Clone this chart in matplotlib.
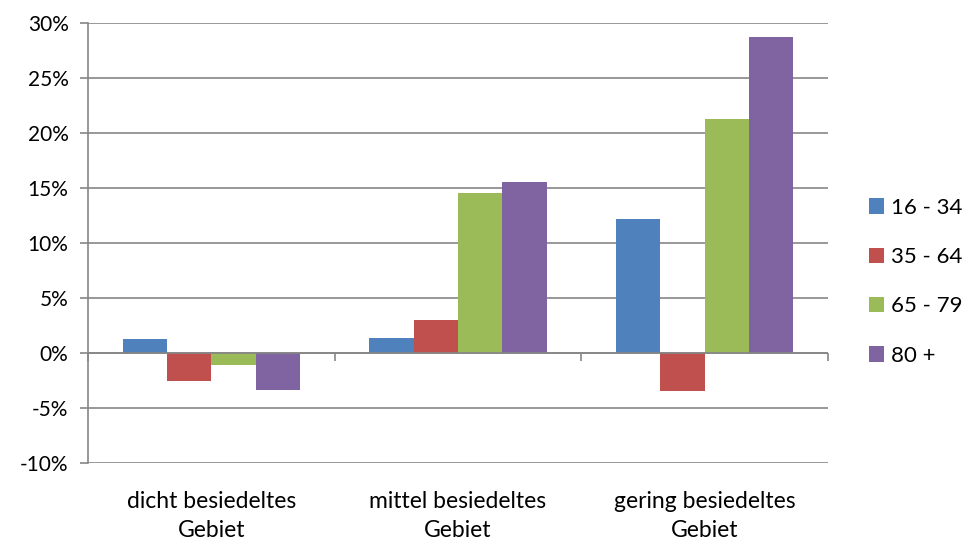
import numpy as np
import matplotlib.pyplot as plt
from matplotlib.ticker import FuncFormatter, MultipleLocator

plt.rcParams['font.family'] = ['Lato', 'DejaVu Sans']

categories = ["dicht besiedeltes\nGebiet", "mittel besiedeltes\nGebiet", "gering besiedeltes\nGebiet"]
series_names = ["16 - 34", "35 - 64", "65 - 79", "80 +"]
v_16_34 = [1.25, 1.35, 12.15]
v_35_64 = [-2.55, 3.05, -3.4]
v_65_79 = [-1.05, 14.5, 21.3]
v_80 = [-3.35, 15.5, 28.7]
colors = ["#4F81BD", "#C0504D", "#9BBB59", "#8064A2"]

values = [v_16_34, v_35_64, v_65_79, v_80]
grid_col = "#868686"

fig = plt.figure(figsize=(9.68, 5.45), dpi=100)
ax = fig.add_axes([0.0909, 0.15, 0.7645, 0.8083])

x = np.arange(len(categories))
w = 0.18
for i, (vals, name, c) in enumerate(zip(values, series_names, colors)):
	ax.bar(x + (i - 1.5) * w, vals, w, color=c, label=name, zorder=3, linewidth=0)

ax.set_xlim(-0.5, 2.5)
ax.set_ylim(-10, 30)
ax.yaxis.set_major_locator(MultipleLocator(5))
ax.yaxis.set_major_formatter(FuncFormatter(lambda v, p: "%d%%" % v))
ax.grid(axis="y", color=grid_col, linewidth=1.2, zorder=0)
ax.axhline(0, color=grid_col, linewidth=1.2, zorder=4)

for s in ["top", "right", "bottom"]:
	ax.spines[s].set_visible(False)
ax.spines["left"].set_color(grid_col)
ax.spines["left"].set_linewidth(1.2)
ax.tick_params(axis="y", length=6, width=1.2, color=grid_col, labelsize=15, pad=8)

ax.set_xticks(x)
ax.set_xticklabels(categories, fontsize=16.5, linespacing=1.45)
ax.tick_params(axis="x", length=0, pad=20)

# ticks on the zero line between categories
zero_frac = (0 - ax.get_ylim()[0]) / (ax.get_ylim()[1] - ax.get_ylim()[0])
sec = ax.secondary_xaxis(zero_frac)
sec.set_xticks([-0.5, 0.5, 1.5, 2.5])
sec.set_xticklabels([])
sec.spines["bottom"].set_visible(False)
sec.tick_params(axis="x", length=6, width=1.2, color=grid_col)

ax.legend(loc="center left", bbox_to_anchor=(1.043, 0.412), frameon=False, fontsize=16,
	handlelength=0.68, handleheight=0.68, handletextpad=0.3, labelspacing=1.32, borderaxespad=0)

fig.savefig("out.png", dpi=100)
